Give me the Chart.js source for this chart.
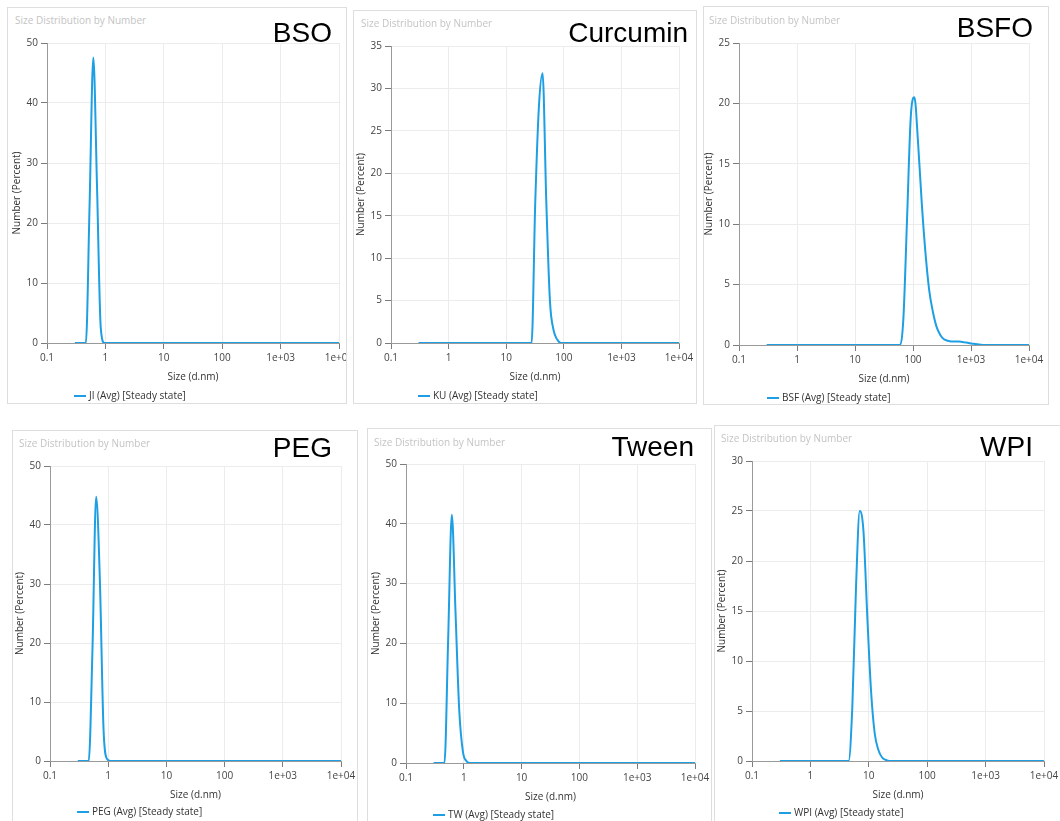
<!DOCTYPE html>
<html>
<head>
<meta charset="utf-8">
<script src="https://cdn.jsdelivr.net/npm/chart.js@4.4.1/dist/chart.umd.min.js"></script>
<style>
  html, body { margin: 0; padding: 0; background: #fff; }
  body { width: 1060px; height: 821px; position: relative; overflow: hidden; font-family: "Open Sans", sans-serif; }
  .panel { position: absolute; border: 1px solid #dedede; box-sizing: border-box; overflow: hidden; }
  .panel canvas { position: absolute; }
  .caption { position: absolute; font-size: 10px; line-height: 12px; color: #c4c4c4; white-space: nowrap; }
  .tag { position: absolute; font-family: "Liberation Sans", Arial, sans-serif; font-size: 28px; line-height: 28px; color: #000; white-space: nowrap; }
  .legend { position: absolute; font-size: 10px; line-height: 12px; color: #333; white-space: nowrap; }
  .legend i { display: inline-block; width: 12px; height: 2px; background: #1e9fe3; vertical-align: middle; margin-right: 3px; margin-top: -1px; }
</style>
</head>
<body>
<script>
// x axis (log) ticks
const sizeTicks = [0.1, 1, 10, 100, 1000, 10000];
const sizeTickLabels = ['0.1', '1', '10', '100', '1e+03', '1e+04'];

// BSO
const bsoSize = [0.3, 0.463, 0.536, 0.621, 0.719, 0.833, 0.965, 10000];
const bsoNumber = [0, 0, 23, 47.6, 26, 2.5, 0, 0];

// Curcumin
const kuSize = [0.3, 27.6, 31.9, 37.0, 42.8, 49.6, 57.4, 66.5, 77.0, 89.1, 10000];
const kuNumber = [0, 0, 16.4, 27.9, 31.8, 16.8, 5, 1.5, 0.4, 0, 0];

// BSFO
const bsfSize = [0.3, 58.8, 68.1, 78.8, 91.3, 105.7, 122.4, 141.8, 164.2, 190.1, 220.2, 255, 295.3, 342, 396.1,
  458.7, 531.2, 615.1, 712.4, 825, 955.4, 1106, 1281, 1484, 1718, 1990, 10000];
const bsfNumber = [0, 0, 2.1, 10.3, 18.8, 20.5, 16.7, 11.7, 7.6, 4.55, 2.75, 1.5, 0.83, 0.47, 0.35,
  0.3, 0.3, 0.28, 0.25, 0.2, 0.15, 0.1, 0.06, 0.03, 0.01, 0, 0];

// PEG
const pegSize = [0.3, 0.463, 0.536, 0.621, 0.719, 0.833, 0.965, 1.117, 10000];
const pegNumber = [0, 0, 18.7, 44.8, 30.7, 5.2, 0.3, 0, 0];

// Tween
const twSize = [0.3, 0.463, 0.536, 0.621, 0.719, 0.833, 0.965, 1.117, 1.294, 10000];
const twNumber = [0, 0, 20.6, 41.5, 25.2, 8.9, 1.9, 0.3, 0, 0];

// WPI
const wpiSize = [0.3, 4.51, 5.22, 6.05, 7.0, 8.1, 9.4, 10.9, 12.6, 14.6, 16.9, 19.6, 22.7, 10000];
const wpiNumber = [0, 0, 5.4, 17.5, 25, 23, 14.6, 7.1, 2.8, 1.1, 0.35, 0.1, 0, 0];

const sampleNames = ['BSO', 'Curcumin', 'BSFO', 'PEG', 'Tween', 'WPI'];
const seriesNames = ['JI (Avg) [Steady state]', 'KU (Avg) [Steady state]', 'BSF (Avg) [Steady state]',
  'PEG (Avg) [Steady state]', 'TW (Avg) [Steady state]', 'WPI (Avg) [Steady state]'];
const yMaxes = [50, 35, 25, 50, 50, 30];
const ySteps = [10, 5, 5, 10, 10, 5];

// layout only: panel box, plot area, label anchors
const panels = [
  {size: bsoSize, num: bsoNumber, box: [7, 7, 347, 404], plot: [47, 43, 339, 343], cap: [15, 20], tag: [332, 42.7], leg: [74, 395]},
  {size: kuSize, num: kuNumber, box: [353, 10, 697, 404], plot: [391, 46, 679, 343], cap: [361, 23], tag: [688, 42.3], leg: [418, 395]},
  {size: bsfSize, num: bsfNumber, box: [703, 6, 1049, 405], plot: [739, 43, 1029, 345], cap: [709, 20], tag: [1033, 37.7], leg: [767, 397]},
  {size: pegSize, num: pegNumber, box: [12, 430, 358, 822], plot: [50, 466, 341, 761], cap: [19, 443], tag: [332, 458], leg: [77, 811]},
  {size: twSize, num: twNumber, box: [367, 428, 712, 822], plot: [406, 464, 695, 763], cap: [374, 442], tag: [694, 456.7], leg: [433, 814]},
  {size: wpiSize, num: wpiNumber, box: [714, 425, 1062, 822], plot: [752, 461, 1044, 761], cap: [721, 438], tag: [1033, 456.7], leg: [779, 812]}
];

const lineColor = '#1e9fe3';
const PAD_L = 2, PAD_T = 10, PAD_R = 20, PAD_B = 2, Y_W = 40, X_H = 44;
const axisFont = {family: 'Open Sans', size: 10};

Chart.defaults.font.family = 'Open Sans';

panels.forEach((p, k) => {
  const [bl, bt, br, bb] = p.box;
  const [pl, pt, pr, pb] = p.plot;

  const wrap = document.createElement('div');
  wrap.className = 'panel';
  wrap.style.left = bl + 'px';
  wrap.style.top = bt + 'px';
  wrap.style.width = (br - bl) + 'px';
  wrap.style.height = (bb - bt) + 'px';
  document.body.appendChild(wrap);

  const cw = PAD_L + Y_W + (pr - pl) + PAD_R;
  const chh = PAD_T + (pb - pt) + X_H + PAD_B;
  const canvas = document.createElement('canvas');
  canvas.width = cw;
  canvas.height = chh;
  canvas.style.width = cw + 'px';
  canvas.style.height = chh + 'px';
  canvas.style.left = (pl - Y_W - PAD_L - bl - 1) + 'px';
  canvas.style.top = (pt - PAD_T - bt - 1) + 'px';
  wrap.appendChild(canvas);

  const cap = document.createElement('div');
  cap.className = 'caption';
  cap.textContent = 'Size Distribution by Number';
  cap.style.left = p.cap[0] + 'px';
  cap.style.top = (p.cap[1] - 6) + 'px';
  document.body.appendChild(cap);

  const tag = document.createElement('div');
  tag.className = 'tag';
  tag.textContent = sampleNames[k];
  tag.style.right = (1060 - p.tag[0]) + 'px';
  tag.style.top = (p.tag[1] - 23.7) + 'px';
  document.body.appendChild(tag);

  const leg = document.createElement('div');
  leg.className = 'legend';
  leg.innerHTML = '<i></i>';
  leg.appendChild(document.createTextNode(seriesNames[k]));
  leg.style.left = p.leg[0] + 'px';
  leg.style.top = (p.leg[1] - 6) + 'px';
  document.body.appendChild(leg);

  new Chart(canvas, {
    type: 'line',
    data: {
      datasets: [{
        label: seriesNames[k],
        data: p.size.map((s, i) => ({x: s, y: p.num[i]})),
        borderColor: lineColor,
        borderWidth: 2,
        pointRadius: 0,
        fill: false,
        cubicInterpolationMode: 'monotone'
      }]
    },
    options: {
      responsive: false,
      animation: false,
      layout: {padding: {left: PAD_L, top: PAD_T, right: PAD_R, bottom: PAD_B}},
      plugins: {
        legend: {display: false},
        tooltip: {enabled: false}
      },
      scales: {
        x: {
          type: 'logarithmic',
          min: 0.1,
          max: 10000,
          afterBuildTicks: s => { s.ticks = sizeTicks.map(v => ({value: v})); },
          afterFit: s => { s.height = X_H; },
          ticks: {
            autoSkip: false,
            maxRotation: 0,
            padding: 3,
            color: '#444',
            font: axisFont,
            callback: (v, i) => sizeTickLabels[i]
          },
          grid: {color: '#ececec', tickColor: '#7c7c7c', tickLength: 6},
          border: {color: '#9a9a9a'},
          title: {display: true, text: 'Size (d.nm)', color: '#333', font: axisFont, padding: {top: 4, bottom: 4}}
        },
        y: {
          min: 0,
          max: yMaxes[k],
          afterFit: s => { s.width = Y_W; },
          ticks: {stepSize: ySteps[k], padding: 3, color: '#444', font: axisFont},
          grid: {color: '#ececec', tickColor: '#7c7c7c', tickLength: 6},
          border: {color: '#9a9a9a'},
          title: {display: true, text: 'Number (Percent)', color: '#333', font: axisFont, padding: {top: 4, bottom: 0}}
        }
      }
    }
  });
});
</script>
</body>
</html>
